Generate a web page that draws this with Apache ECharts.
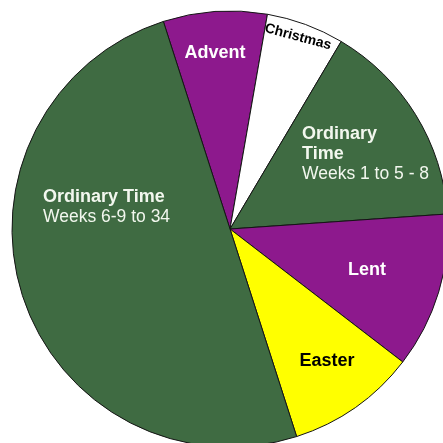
<!DOCTYPE html>
<html>
<head>
<meta charset="utf-8">
<script src="https://cdn.jsdelivr.net/npm/echarts@6/dist/echarts.min.js"></script>
<style>
  html, body { margin: 0; padding: 0; background: #fff; }
  #chart { width: 443px; height: 443px; }
</style>
</head>
<body>
<div id="chart"></div>
<script>
// liturgical seasons, clockwise from Advent (length in weeks)
const seasons = ['Advent', 'Christmas', 'Ordinary\nTime', 'Lent', 'Easter', 'Ordinary Time'];
const weeks = [4, 3, 8, 6, 5, 26];
const subLabels = ['', '', 'Weeks 1 to 5 - 8', '', '', 'Weeks 6-9 to 34'];

const fills = ['#8d198d', '#ffffff', '#3f6b42', '#8d198d', '#ffff00', '#3f6b42'];
const textColors = ['#ffffff', '#000000', '#f2f7ee', '#ffffff', '#000000', '#f2f7ee'];
// where each label sits on the canvas
const labelSpots = [
  { x: 215, y: 53, align: 'center', va: 'middle' },
  { x: 298, y: 37, align: 'center', va: 'middle' },
  { x: 302, y: 124, align: 'left', va: 'top' },
  { x: 367, y: 270, align: 'center', va: 'middle' },
  { x: 327, y: 361, align: 'center', va: 'middle' },
  { x: 43, y: 187, align: 'left', va: 'top' }
];

const chart = echarts.init(document.getElementById('chart'));

const pieData = seasons.map((name, i) => {
  const item = {
    name: name,
    value: weeks[i],
    itemStyle: { color: fills[i] },
    label: { color: textColors[i] }
  };
  if (name === 'Christmas') {
    item.label.rotate = -15;
    item.label.rich = { t: { fontSize: 14, fontWeight: 'bold', color: '#000' } };
  }
  return item;
});

chart.setOption({
  backgroundColor: '#ffffff',
  animation: false,
  series: [{
    type: 'pie',
    center: [230, 229],
    radius: 218,
    startAngle: 107.8,
    clockwise: true,
    avoidLabelOverlap: false,
    itemStyle: {
      borderColor: '#151515',
      borderWidth: 1
    },
    label: {
      show: true,
      position: 'inside',
      fontFamily: 'Liberation Sans',
      formatter: p => {
        let s = p.name.split('\n').map(l => '{t|' + l + '}').join('\n');
        const sub = subLabels[p.dataIndex];
        if (sub) s += '\n{w|' + sub + '}';
        return s;
      },
      rich: {
        t: { fontFamily: 'Liberation Sans', fontSize: 18, fontWeight: 'bold', lineHeight: 20 },
        w: { fontFamily: 'Liberation Sans', fontSize: 17.5, fontWeight: 'normal', lineHeight: 20 }
      }
    },
    labelLine: { show: false },
    labelLayout: p => {
      const s = labelSpots[p.dataIndex];
      return { x: s.x, y: s.y, align: s.align, verticalAlign: s.va };
    },
    emphasis: { disabled: true },
    data: pieData
  }]
});
</script>
</body>
</html>
